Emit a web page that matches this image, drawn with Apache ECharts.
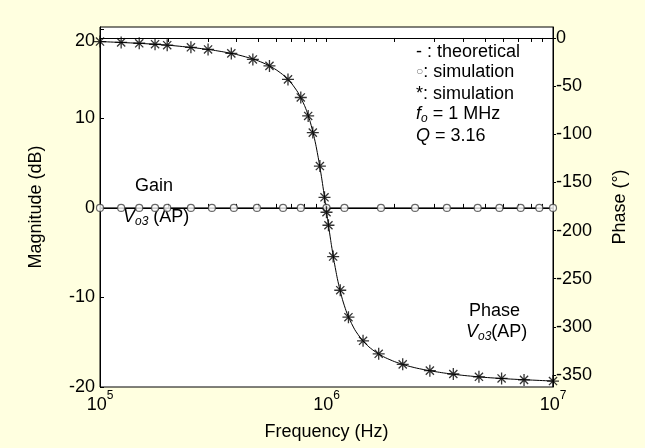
<!DOCTYPE html>
<html>
<head>
<meta charset="utf-8">
<script src="https://cdn.jsdelivr.net/npm/echarts@6/dist/echarts.min.js"></script>
<style>html,body{margin:0;padding:0;background:#FFFFE0;}#c{width:645px;height:448px;}</style>
</head>
<body>
<div id="c"></div>
<script>
// Theoretical curves
const gainLineFreq = [1e5, 1e7];
const gainLineVal = [0, 0];
const phaseLineFreq = [1e5,1.5e5,2e5,2.5e5,3e5,3.5e5,4e5,4.5e5,5e5,5.5e5,6e5,6.5e5,7e5,7.5e5,8e5,8.2e5,8.5e5,8.8e5,9e5,9.3e5,9.5e5,9.6e5,9.8e5,9.9e5,1e6,1.0101e6,1.0204e6,1.0417e6,1.0526e6,1.0753e6,1.1111e6,1.1364e6,1.1765e6,1.2195e6,1.25e6,1.3333e6,1.4286e6,1.5385e6,1.6667e6,1.8182e6,2e6,2.2222e6,2.5e6,2.857e6,3.333e6,4e6,5e6,6.667e6,1e7];
const phaseLineVal = [-3.7,-5.6,-7.5,-9.7,-11.9,-14.4,-17.1,-20.3,-23.8,-28.0,-33.1,-39.2,-47.0,-57.0,-70.2,-76.8,-88.2,-102.0,-112.6,-130.7,-144.1,-151.1,-165.5,-172.7,-180,-187.3,-194.5,-208.9,-215.9,-229.3,-247.4,-258.0,-271.8,-283.2,-289.8,-303.0,-313.0,-320.8,-327.0,-332.0,-336.2,-339.8,-342.9,-345.6,-348.1,-350.4,-352.5,-354.4,-356.3];
// Simulation points
const gainSimFreq = [1e5,1.24e5,1.49e5,1.75e5,1.98e5,2.52e5,3.12e5,3.9e5,4.93e5,6.43e5,7.7e5,1e6,1.2e6,1.74e6,2.46e6,3.4e6,4.65e6,5.8e6,7.2e6,8.7e6,1e7];
const gainSimVal = [0,0,0,0,0,0,0,0,0,0,0,0,0,0,0,0,0,0,0,0,0];
const phaseSimFreq = [1e5,1.24e5,1.49e5,1.75e5,1.98e5,2.52e5,3e5,3.8e5,4.73e5,5.6e5,6.76e5,7.7e5,8.3e5,8.7e5,9.35e5,9.8e5,1e6,1.02e6,1.07e6,1.15e6,1.25e6,1.45e6,1.7e6,2.17e6,2.86e6,3.63e6,4.71e6,5.93e6,7.45e6,1e7];
const phaseSimVal = [-3.7,-4.6,-5.5,-6.5,-7.5,-9.7,-11.9,-16.0,-22.3,-29.0,-43.0,-61.8,-81.0,-98.3,-133.0,-165.5,-181.0,-194.5,-227.0,-262.0,-290.0,-314.5,-328.0,-339.0,-345.5,-349.0,-351.9,-353.6,-355.1,-356.3];
// Ticks
const xMajorTicks = [1e5, 1e6, 1e7];
const xMinorTicks = [1e5,2e5,3e5,4e5,5e5,6e5,7e5,8e5,9e5,1e6,2e6,3e6,4e6,5e6,6e6,7e6,8e6,9e6,1e7];
const phaseTicks = [0,-50,-100,-150,-200,-250,-300,-350];

const zip = (a, b) => a.map((v, i) => [v, b[i]]);
const FONT = "'Liberation Sans', Arial, sans-serif";
const chart = echarts.init(document.getElementById('c'));
const star = 'path://M5 0L5 10M0 5L10 5M1.6 1.6L8.4 8.4M1.6 8.4L8.4 1.6';

chart.setOption({
  backgroundColor: '#FFFFE0',
  animation: false,
  textStyle: {fontFamily: FONT},
  grid: {left: 100, right: 92, top: 27, bottom: 61, show: true, backgroundColor: '#fff', borderColor: '#000', borderWidth: 1},
  xAxis: [{
    type: 'log', logBase: 10, min: 1e5, max: 1e7, position: 'bottom',
    name: 'Frequency (Hz)', nameLocation: 'middle', nameGap: 36,
    nameTextStyle: {fontSize: 18, color: '#000', fontFamily: FONT},
    axisLine: {show: true, lineStyle: {color: '#000', width: 1}},
    axisTick: {show: true, inside: true, length: 4, customValues: xMinorTicks, lineStyle: {color: '#000'}},
    axisLabel: {customValues: xMajorTicks, margin: 3, color: '#000',
      formatter: v => '{b|10}{s|' + Math.round(Math.log10(v)) + '}',
      rich: {b: {fontSize: 18, fontFamily: FONT, color: '#000', verticalAlign: 'bottom', lineHeight: 24},
             s: {fontSize: 12, fontFamily: FONT, color: '#000', verticalAlign: 'top', lineHeight: 24}}},
    splitLine: {show: false}
  }, {
    type: 'log', logBase: 10, min: 1e5, max: 1e7, position: 'top',
    axisLine: {show: true, lineStyle: {color: '#000'}},
    axisTick: {show: true, inside: true, length: 4, customValues: xMinorTicks, lineStyle: {color: '#000'}},
    axisLabel: {show: false}, splitLine: {show: false}
  }],
  yAxis: [{
    type: 'value', min: -20, max: 20.2, interval: 10, position: 'left',
    name: 'Magnitude (dB)', nameLocation: 'middle', nameGap: 55, nameRotate: 90,
    nameTextStyle: {fontSize: 18, color: '#000', fontFamily: FONT},
    axisLine: {show: true, lineStyle: {color: '#000'}},
    axisTick: {show: true, inside: true, length: 4, lineStyle: {color: '#000'}},
    axisLabel: {fontSize: 18, color: '#000', margin: 5,
      formatter: v => v === 20 ? '{t|20}' : String(v),
      rich: {t: {fontSize: 18, fontFamily: FONT, color: '#000', padding: [24, 0, 0, 0]}}},
    splitLine: {show: false}
  }, {
    type: 'value', min: -362.5, max: 11.4, position: 'right',
    name: 'Phase (°)', nameLocation: 'middle', nameGap: 58, nameRotate: 90,
    nameTextStyle: {fontSize: 18, color: '#000', fontFamily: FONT},
    axisLine: {show: true, lineStyle: {color: '#000'}},
    axisTick: {show: true, inside: false, length: 3, customValues: phaseTicks, lineStyle: {color: '#000'}},
    axisLabel: {fontSize: 18, color: '#000', margin: 3, customValues: phaseTicks},
    splitLine: {show: false}
  }],
  series: [
    {type: 'line', xAxisIndex: 0, yAxisIndex: 0, data: zip(gainLineFreq, gainLineVal), symbol: 'none',
     lineStyle: {color: '#000', width: 1}, z: 2},
    {type: 'scatter', xAxisIndex: 0, yAxisIndex: 0, data: zip(gainSimFreq, gainSimVal), symbol: 'circle', symbolSize: 7,
     itemStyle: {color: '#fff', borderColor: '#444', borderWidth: 1.2}, z: 3},
    {type: 'line', xAxisIndex: 0, yAxisIndex: 1, data: zip(phaseLineFreq, phaseLineVal), symbol: 'none', smooth: 0.2,
     lineStyle: {color: '#000', width: 1}, z: 2},
    {type: 'scatter', xAxisIndex: 0, yAxisIndex: 1, data: zip(phaseSimFreq, phaseSimVal), symbol: star, symbolSize: 12,
     itemStyle: {color: 'none', borderColor: '#000', borderWidth: 1.3}, z: 4}
  ],
  graphic: [
    {type: 'text', left: 416, top: 43, style: {text: '- : theoretical', font: '18px ' + FONT, fill: '#000'}},
    {type: 'text', left: 416, top: 63, style: {text: '{c|○}: simulation', font: '18px ' + FONT, fill: '#000',
      rich: {c: {fontSize: 12, fill: '#777', fontFamily: FONT}}}},
    {type: 'text', left: 416, top: 85, style: {text: '*: simulation', font: '18px ' + FONT, fill: '#000'}},
    {type: 'text', left: 416, top: 105, style: {text: '{i|f}{sub|o} = 1 MHz', font: '18px ' + FONT, fill: '#000',
      rich: {i: {fontStyle: 'italic', fontSize: 18, fontFamily: FONT, lineHeight: 22, verticalAlign: 'middle'},
             sub: {fontStyle: 'italic', fontSize: 12, fontFamily: FONT, lineHeight: 10, verticalAlign: 'bottom'}}}},
    {type: 'text', left: 416, top: 127, style: {text: '{i|Q} = 3.16', font: '18px ' + FONT, fill: '#000',
      rich: {i: {fontStyle: 'italic', fontSize: 18, fontFamily: FONT}}}},
    {type: 'text', left: 135, top: 177, style: {text: 'Gain', font: '18px ' + FONT, fill: '#000'}},
    {type: 'text', left: 123, top: 208, style: {text: '{i|V}{sub|o3} (AP)', font: '18px ' + FONT, fill: '#000',
      rich: {i: {fontStyle: 'italic', fontSize: 18, fontFamily: FONT, lineHeight: 22, verticalAlign: 'middle'},
             sub: {fontStyle: 'italic', fontSize: 12, fontFamily: FONT, lineHeight: 10, verticalAlign: 'bottom'}}}},
    {type: 'text', left: 469, top: 302, style: {text: 'Phase', font: '18px ' + FONT, fill: '#000'}},
    {type: 'text', left: 466, top: 323, style: {text: '{i|V}{sub|o3}(AP)', font: '18px ' + FONT, fill: '#000',
      rich: {i: {fontStyle: 'italic', fontSize: 18, fontFamily: FONT, lineHeight: 22, verticalAlign: 'middle'},
             sub: {fontStyle: 'italic', fontSize: 12, fontFamily: FONT, lineHeight: 10, verticalAlign: 'bottom'}}}}
  ]
});
</script>
</body>
</html>
